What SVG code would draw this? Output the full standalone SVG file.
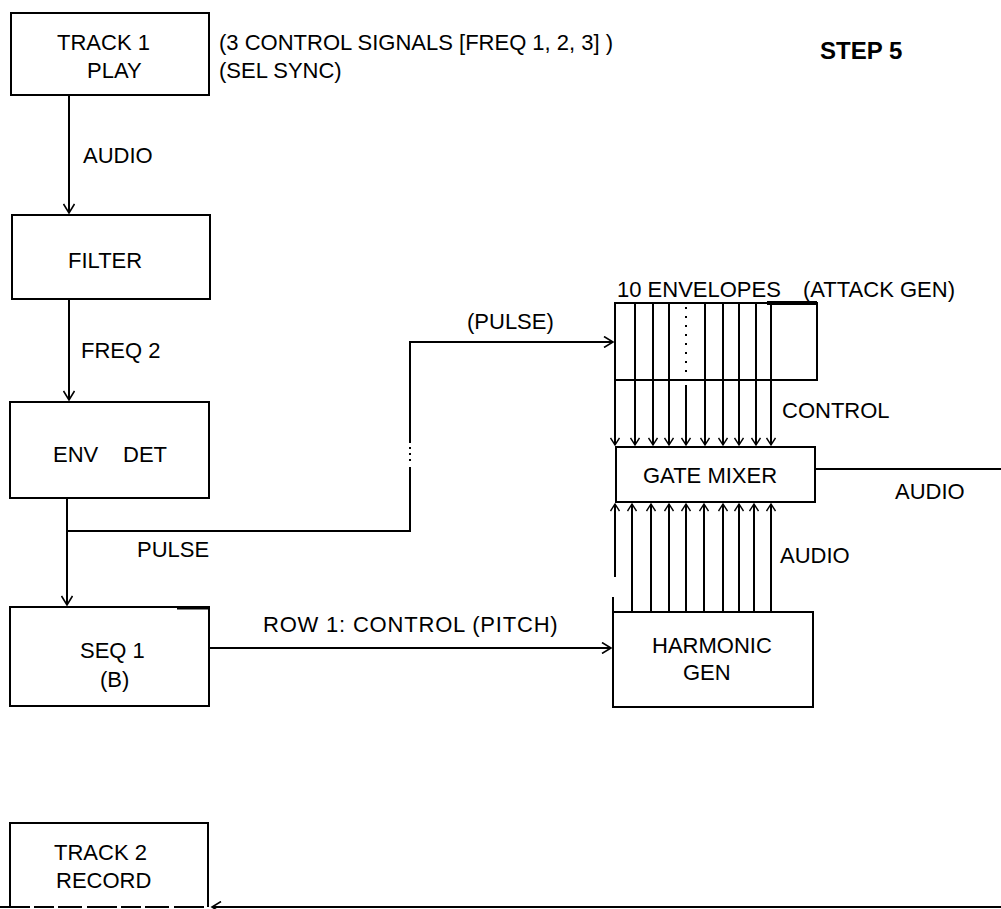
<svg xmlns="http://www.w3.org/2000/svg" width="1001" height="909" viewBox="0 0 1001 909">
<defs>
<style>
.box{fill:none;stroke:#000;stroke-width:2}
.ln{fill:none;stroke:#000;stroke-width:2}
.t{font-family:"Liberation Sans",Arial,sans-serif;font-size:22px;fill:#000}
</style>
<marker id="ah" markerWidth="12" markerHeight="12" refX="0" refY="0" viewBox="-10 -6 12 12" orient="auto" markerUnits="userSpaceOnUse">
<path d="M-9,-5.5 L0,0 L-9,5.5" fill="none" stroke="#000" stroke-width="1.6"/>
</marker>
<marker id="as" markerWidth="10" markerHeight="10" refX="0" refY="0" viewBox="-8 -5 10 10" orient="auto" markerUnits="userSpaceOnUse">
<path d="M-7,-4.5 L0,0 L-7,4.5" fill="none" stroke="#000" stroke-width="1.4"/>
</marker>
</defs>
<rect width="1001" height="909" fill="#fff"/>

<g id="connectors">
<path class="ln" d="M69,95 V213" marker-end="url(#ah)"/>
<path class="ln" d="M69,299 V400" marker-end="url(#ah)"/>
<path class="ln" d="M67,498 V605" marker-end="url(#ah)"/>
<path class="ln" d="M67,531 H410 V467"/>
<path class="ln" d="M410,443 V342 H613" marker-end="url(#ah)"/>
<path class="ln" d="M410,447 V463" stroke-dasharray="2,4"/>
<g id="env-lines">
<path class="ln" d="M615,380 V445" marker-end="url(#as)"/>
<path class="ln" d="M635,303 V445" marker-end="url(#as)"/>
<path class="ln" d="M653,303 V445" marker-end="url(#as)"/>
<path class="ln" d="M669,303 V445" marker-end="url(#as)"/>
<path class="ln" d="M686,307 V378" stroke-dasharray="2,7"/>
<path class="ln" d="M686,385 V445" marker-end="url(#as)"/>
<path class="ln" d="M705,303 V445" marker-end="url(#as)"/>
<path class="ln" d="M723,303 V445" marker-end="url(#as)"/>
<path class="ln" d="M739,303 V445" marker-end="url(#as)"/>
<path class="ln" d="M756,303 V445" marker-end="url(#as)"/>
<path class="ln" d="M771,303 V445" marker-end="url(#as)"/>
</g>
<g id="audio-lines">
<path class="ln" d="M615,577 V504" marker-end="url(#as)"/>
<path class="ln" d="M632,612 V504" marker-end="url(#as)"/>
<path class="ln" d="M651,612 V504" marker-end="url(#as)"/>
<path class="ln" d="M669,612 V504" marker-end="url(#as)"/>
<path class="ln" d="M686,612 V504" marker-end="url(#as)"/>
<path class="ln" d="M704,612 V504" marker-end="url(#as)"/>
<path class="ln" d="M723,612 V504" marker-end="url(#as)"/>
<path class="ln" d="M739,612 V504" marker-end="url(#as)"/>
<path class="ln" d="M754,612 V504" marker-end="url(#as)"/>
<path class="ln" d="M771,612 V504" marker-end="url(#as)"/>
</g>
<path class="ln" d="M815,469 H1001"/>
<path class="ln" d="M209,648 H611" marker-end="url(#ah)"/>
<path class="ln" d="M1001,907 H212" marker-end="url(#ah)"/>
</g>

<g id="track1">
<rect class="box" x="11" y="13" width="198" height="82"/>
<text class="t" x="57" y="50">TRACK 1</text>
<text class="t" x="87" y="78">PLAY</text>
</g>
<g id="control-note">
<text class="t" x="219" y="50">(3 CONTROL SIGNALS [FREQ 1, 2, 3] )</text>
<text class="t" x="219" y="78">(SEL SYNC)</text>
</g>
<g id="step">
<text class="t" x="820" y="59" style="font-size:24px;font-weight:bold">STEP 5</text>
</g>
<g id="filter">
<rect class="box" x="12" y="215" width="198" height="84"/>
<text class="t" x="68" y="268">FILTER</text>
</g>
<g id="envdet">
<rect class="box" x="10" y="402" width="199" height="96"/>
<text class="t" x="53" y="462">ENV</text>
<text class="t" x="123" y="462">DET</text>
</g>
<g id="seq1">
<rect class="box" x="10" y="607" width="199" height="99"/>
<path d="M177,608 H209" stroke="#000" stroke-width="3"/>
<text class="t" x="80" y="658">SEQ 1</text>
<text class="t" x="100" y="687">(B)</text>
</g>
<g id="envelopes">
<rect class="box" x="615" y="303" width="202" height="77"/>
<path d="M767,303 H817" stroke="#000" stroke-width="4"/>
<text class="t" x="617" y="297">10 ENVELOPES</text>
<text class="t" x="803" y="297">(ATTACK GEN)</text>
</g>
<g id="gatemixer">
<rect class="box" x="616" y="447" width="199" height="55"/>
<text class="t" x="643" y="483">GATE MIXER</text>
</g>
<g id="harmonic">
<rect class="box" x="613" y="612" width="200" height="95"/>
<path class="ln" d="M613,597 V612"/>
<text class="t" x="652" y="653">HARMONIC</text>
<text class="t" x="683" y="680">GEN</text>
</g>
<g id="track2">
<path class="ln" d="M10,907 V823 H208 V907"/>
<path class="ln" d="M0,907 H205" stroke-dasharray="30,4,20,4,24,5"/>
<text class="t" x="54" y="860">TRACK 2</text>
<text class="t" x="56" y="888">RECORD</text>
</g>
<g id="labels">
<text class="t" x="83" y="163">AUDIO</text>
<text class="t" x="81" y="358">FREQ 2</text>
<text class="t" x="137" y="557">PULSE</text>
<text class="t" x="467" y="329">(PULSE)</text>
<text class="t" x="782" y="418">CONTROL</text>
<text class="t" x="895" y="499">AUDIO</text>
<text class="t" x="780" y="563">AUDIO</text>
<text class="t" x="263" y="632" style="letter-spacing:0.8px">ROW 1: CONTROL (PITCH)</text>
</g>
</svg>
